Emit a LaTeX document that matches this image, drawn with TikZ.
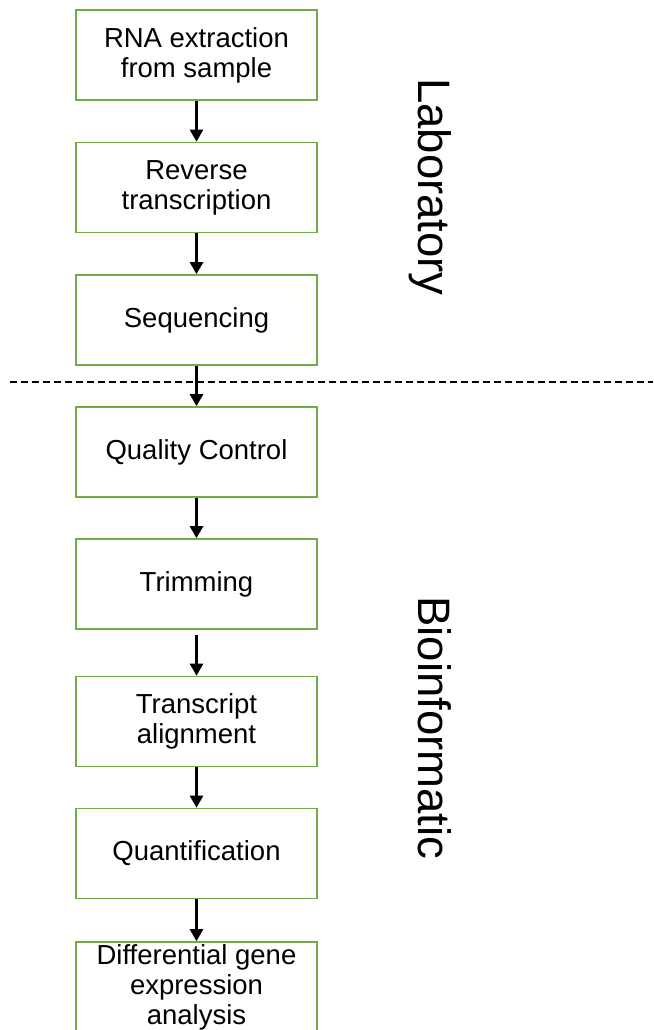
\documentclass[tikz,border=0pt]{standalone}
\usepackage{fontspec}
\setmainfont{Liberation Sans}
\usetikzlibrary{arrows.meta}
\definecolor{boxgreen}{RGB}{112,173,71}
\tikzset{
  stepbox/.style={draw=boxgreen, line width=1.6pt, fill=white, rectangle,
    minimum width=241pt, minimum height=90pt, inner sep=0pt, align=center,
    font=\fontsize{27.5pt}{30pt}\selectfont},
  flow/.style={-{Triangle[width=13pt,length=12pt]}, line width=2.6pt, black},
  sidelabel/.style={rotate=-90, anchor=base, inner sep=0pt, font=\fontsize{45.5pt}{50pt}\selectfont},
  divider/.style={dashed, dash pattern=on 7pt off 4pt, line width=1.2pt, black}
}
\begin{document}
\begin{tikzpicture}[x=1pt, y=-1pt]
\useasboundingbox (0,0) rectangle (653,1030);
\coordinate (dl) at (10,382);
\coordinate (dr) at (653,382);
\draw[divider] (dl) -- (dr);
\node[stepbox] (b1) at (196.5,55) {RNA extraction\\from sample};
\node[stepbox] (b2) at (196.5,187.5) {Reverse\\transcription};
\node[stepbox] (b3) at (196.5,320) {Sequencing};
\node[stepbox] (b4) at (196.5,452) {Quality Control};
\node[stepbox] (b5) at (196.5,584) {Trimming};
\node[stepbox] (b6) at (196.5,721.5) {Transcript\\alignment};
\node[stepbox] (b7) at (196.5,853.5) {Quantification};
\node[stepbox] (b8) at (196.5,987) {Differential gene\\expression\\analysis};
\draw[flow] (b1.south) -- (b2.north);
\draw[flow] (b2.south) -- (b3.north);
\draw[flow] (b3.south) -- (b4.north);
\draw[flow] (b4.south) -- (b5.north);
\draw[flow, shorten <=5pt] (b5.south) -- (b6.north);
\draw[flow] (b6.south) -- (b7.north);
\draw[flow] (b7.south) -- (b8.north);
\node[sidelabel] (lab) at (418,187) {Laboratory};
\node[sidelabel] (bio) at (418,728) {Bioinformatic};
\end{tikzpicture}
\end{document}
